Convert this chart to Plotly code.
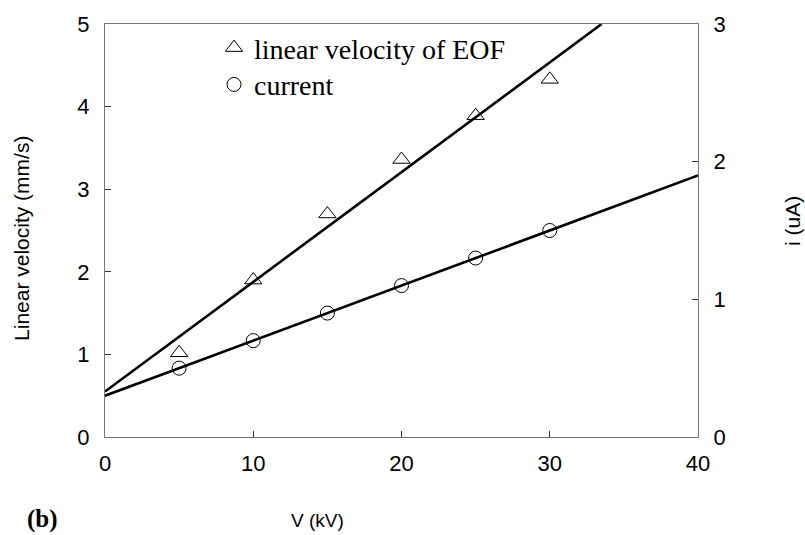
import plotly.graph_objects as go

voltage_kv = [5, 10, 15, 20, 25, 30]
eof_velocity = [1.02, 1.90, 2.70, 3.36, 3.89, 4.33]
current_ua = [0.50, 0.70, 0.90, 1.10, 1.30, 1.50]

eof_fit_v = [0, 33.5]
eof_fit_vel = [0.55, 5.0]
cur_fit_v = [0, 40]
cur_fit_i = [0.30, 1.90]

x_ticks = [0, 10, 20, 30, 40]
left_ticks = [0, 1, 2, 3, 4, 5]
right_ticks = [0, 1, 2, 3]

W, H = 805, 535
ML, MR, MT, MB = 105, 107, 22, 98
pw, ph = W - ML - MR, H - MT - MB


def px(xp):
    return (xp - ML) / pw


def py(yp):
    return (H - MB - yp) / ph


fig = go.Figure()
fig.add_trace(go.Scatter(x=eof_fit_v, y=eof_fit_vel, mode="lines",
                         line=dict(color="black", width=2.6), showlegend=False, yaxis="y"))
fig.add_trace(go.Scatter(x=cur_fit_v, y=cur_fit_i, mode="lines",
                         line=dict(color="black", width=2.6), showlegend=False, yaxis="y2"))
fig.add_trace(go.Scatter(x=voltage_kv, y=eof_velocity, mode="markers",
                         name="linear velocity of EOF", legend="legend",
                         marker=dict(symbol="triangle-up-open", size=15, color="black",
                                     line=dict(width=1, color="black")), yaxis="y"))
fig.add_trace(go.Scatter(x=voltage_kv, y=current_ua, mode="markers", name="current",
                         legend="legend2",
                         marker=dict(symbol="circle-open", size=14, color="black",
                                     line=dict(width=1, color="black")), yaxis="y2"))

sans = "Liberation Sans, Arial"
serif = "Liberation Serif, Times New Roman"
tick_font = dict(family=sans, size=22, color="black")
axis_common = dict(ticks="inside", ticklen=6, tickcolor="#333", showline=True,
                   linecolor="#777", linewidth=1, showgrid=False, zeroline=False,
                   tickfont=tick_font)
legend_common = dict(xanchor="left", yanchor="middle",
                     font=dict(family=serif, size=28, color="black"),
                     bgcolor="rgba(0,0,0,0)", itemwidth=30)

fig.update_layout(
    width=W, height=H,
    margin=dict(l=ML, r=MR, t=MT, b=MB),
    paper_bgcolor="white", plot_bgcolor="white",
    showlegend=True,
    legend=dict(x=px(214), y=py(46), **legend_common),
    legend2=dict(x=px(214), y=py(83), **legend_common),
    xaxis=dict(range=[0, 40], tickvals=x_ticks, mirror=True, ticklabelstandoff=7,
               **axis_common),
    yaxis=dict(range=[0, 5], tickvals=left_ticks, ticklabelstandoff=10, **axis_common),
    yaxis2=dict(range=[0, 3], tickvals=right_ticks, overlaying="y", side="right",
                ticklabelstandoff=10, **axis_common),
    annotations=[
        dict(text="V (kV)", x=px(317), y=py(521), xanchor="center", yanchor="middle",
             xref="paper", yref="paper", showarrow=False,
             font=dict(family=sans, size=19, color="black")),
        dict(text="Linear velocity (mm/s)", x=px(22), y=py(238), textangle=-90,
             xanchor="center", yanchor="middle", xref="paper", yref="paper",
             showarrow=False, font=dict(family=sans, size=21, color="black")),
        dict(text="i (uA)", x=px(792), y=py(220), textangle=-90,
             xanchor="center", yanchor="middle", xref="paper", yref="paper",
             showarrow=False, font=dict(family=sans, size=21, color="black")),
        dict(text="<b>(b)</b>", x=px(42), y=py(519), xanchor="center", yanchor="middle",
             xref="paper", yref="paper", showarrow=False,
             font=dict(family=serif, size=25, color="black")),
    ],
)

fig.write_html("out.html")
